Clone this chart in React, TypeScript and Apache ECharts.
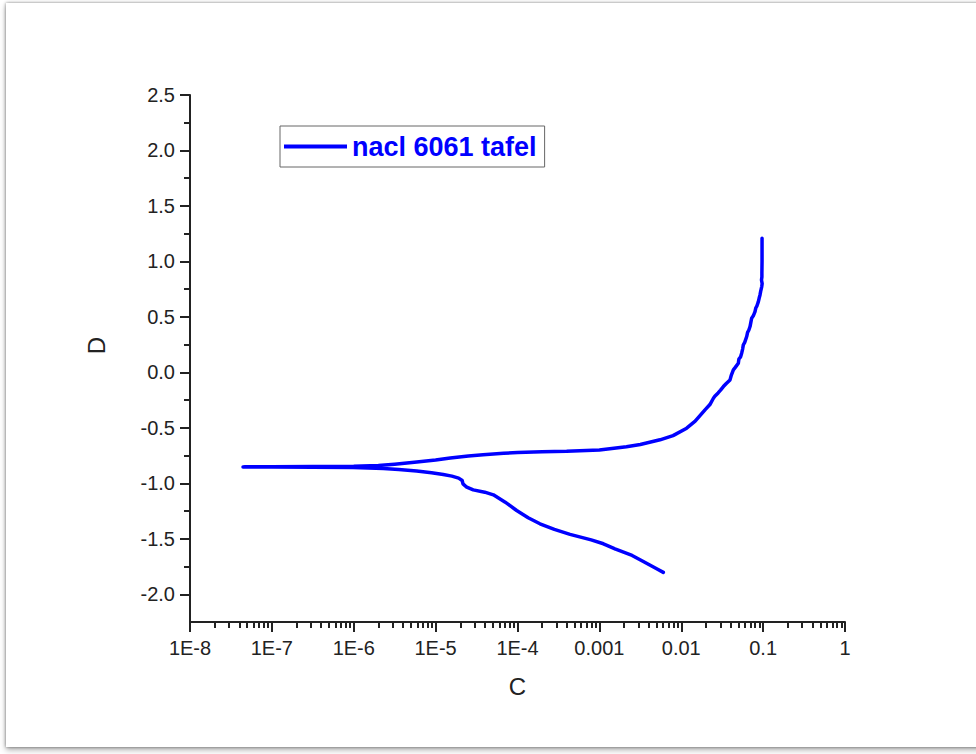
import React, { useEffect, useRef } from "react";
import * as echarts from "echarts";

// Cathodic branch (scan start, high current -> Ecorr)
const lowerC = [
  6.04e-3, 5.01e-3, 3.44e-3, 2.51e-3, 1.58e-3, 1.48e-3, 1.12e-3, 7.94e-4,
  4.38e-4, 2.82e-4, 1.88e-4, 1.35e-4, 9.77e-5, 7.08e-5, 5.07e-5, 3.98e-5,
  2.88e-5, 2.4e-5, 2.16e-5, 2.11e-5, 1.91e-5, 1.58e-5, 1.24e-5, 8.91e-6,
  5.87e-6, 3.55e-6, 2.3e-6, 9.8e-7, 3.16e-7, 1.0e-7, 4.44e-8,
];
const lowerD = [
  -1.803, -1.77, -1.704, -1.65, -1.594, -1.584, -1.545, -1.51,
  -1.46, -1.415, -1.365, -1.31, -1.245, -1.17, -1.104, -1.08,
  -1.059, -1.035, -1.005, -0.975, -0.953, -0.935, -0.92, -0.905,
  -0.89, -0.876, -0.867, -0.858, -0.855, -0.853, -0.852,
];
// Anodic branch (Ecorr -> end of scan)
const upperC = [
  4.68e-8, 1.0e-7, 3.16e-7, 1.0e-6, 2.0e-6, 3.16e-6, 5.89e-6, 1.0e-5,
  1.51e-5, 2.51e-5, 3.8e-5, 6.76e-5, 1.0e-4, 2.0e-4, 3.98e-4, 1.0e-3,
  2.14e-3, 3.16e-3, 5.5e-3, 7.94e-3, 1.164e-2, 1.479e-2, 1.95e-2, 2.24e-2,
  2.47e-2, 2.57e-2, 2.82e-2, 3.02e-2, 3.27e-2, 3.55e-2, 3.94e-2, 4.07e-2,
  4.33e-2, 4.57e-2, 4.98e-2, 5.06e-2, 5.31e-2, 5.47e-2, 5.62e-2, 5.73e-2,
  5.96e-2, 6.3e-2, 6.46e-2, 6.68e-2, 6.92e-2, 7.08e-2, 7.24e-2, 7.59e-2,
  7.96e-2, 8.13e-2, 8.41e-2, 8.75e-2, 8.95e-2, 9.16e-2, 9.33e-2, 9.62e-2,
  9.73e-2, 9.55e-2, 9.66e-2, 9.66e-2, 9.7e-2, 9.7e-2,
];
const upperD = [
  -0.851, -0.85, -0.849, -0.847, -0.84, -0.828, -0.808, -0.79,
  -0.772, -0.753, -0.742, -0.73, -0.722, -0.716, -0.712, -0.7,
  -0.67, -0.65, -0.608, -0.57, -0.503, -0.44, -0.338, -0.29,
  -0.233, -0.215, -0.185, -0.16, -0.128, -0.1, -0.068, -0.03,
  0.023, 0.045, 0.083, 0.12, 0.14, 0.173, 0.21, 0.248,
  0.27, 0.323, 0.36, 0.38, 0.413, 0.45, 0.488, 0.51,
  0.548, 0.58, 0.6, 0.638, 0.67, 0.698, 0.73, 0.773,
  0.8, 0.833, 0.86, 0.893, 1.0, 1.209,
];

const seriesName = "nacl 6061 tafel";
const xMajorTicks = [1e-8, 1e-7, 1e-6, 1e-5, 1e-4, 1e-3, 1e-2, 1e-1, 1];
const yMajorTicks = [-2.0, -1.5, -1.0, -0.5, 0.0, 0.5, 1.0, 1.5, 2.0, 2.5];
const yMinorTicks = [-1.75, -1.25, -0.75, -0.25, 0.25, 0.75, 1.25, 1.75, 2.25];
const xMinorTicks: number[] = [];
for (let e = -8; e < 0; e++) {
  for (let k = 2; k <= 9; k++) xMinorTicks.push(k * Math.pow(10, e));
}

const FONT = "Liberation Sans, Arial, sans-serif";
const AXIS_COLOR = "#222";
const LINE_COLOR = "#0000ff";

function fmtX(v: number): string {
  const e = Math.round(Math.log10(v));
  if (e < -3) return "1E" + e;
  if (e === 0) return "1";
  return Math.pow(10, e).toFixed(-e);
}

export default function App() {
  const ref = useRef<HTMLDivElement>(null);
  useEffect(() => {
    if (!ref.current) return;
    const chart = echarts.init(ref.current, undefined, { renderer: "svg" });
    const data: [number, number][] = [];
    lowerC.forEach((c, i) => data.push([c, lowerD[i]]));
    upperC.forEach((c, i) => data.push([c, upperD[i]]));
    const lineStyle = { color: AXIS_COLOR, width: 2 };
    chart.setOption({
      animation: false,
      backgroundColor: "#fff",
      grid: { left: 184, top: 92, width: 655, height: 527, containLabel: false },
      legend: {
        data: [{ name: seriesName, icon: "rect" }],
        left: 274,
        top: 123,
        orient: "horizontal",
        padding: [7, 8, 7, 4],
        borderColor: "#666",
        borderWidth: 1,
        itemWidth: 63,
        itemHeight: 4,
        itemStyle: { color: LINE_COLOR },
        textStyle: { color: LINE_COLOR, fontWeight: "bold", fontSize: 27, fontFamily: FONT },
      },
      xAxis: [
        {
          type: "log",
          logBase: 10,
          min: 1e-8,
          max: 1,
          position: "bottom",
          name: "C",
          nameLocation: "middle",
          nameGap: 52,
          nameTextStyle: { fontSize: 24, color: AXIS_COLOR, fontFamily: FONT },
          axisLine: { show: true, onZero: false, lineStyle },
          axisTick: { show: true, inside: false, length: 10, customValues: xMajorTicks, lineStyle },
          axisLabel: {
            customValues: xMajorTicks,
            formatter: (v: number) => fmtX(v),
            fontSize: 20,
            color: AXIS_COLOR,
            fontFamily: FONT,
            margin: 16,
          },
          splitLine: { show: false },
          minorTick: { show: false },
        },
        {
          type: "log",
          logBase: 10,
          min: 1e-8,
          max: 1,
          position: "bottom",
          axisLine: { show: false, onZero: false },
          axisTick: { show: true, inside: false, length: 6, customValues: xMinorTicks, lineStyle },
          axisLabel: { show: false },
          splitLine: { show: false },
        },
      ],
      yAxis: [
        {
          type: "value",
          min: -2.25,
          max: 2.5,
          position: "left",
          name: "D",
          nameLocation: "middle",
          nameGap: 82,
          nameTextStyle: { fontSize: 24, color: AXIS_COLOR, fontFamily: FONT, padding: [0, 0, 0, 26] },
          axisLine: { show: true, onZero: false, lineStyle },
          axisTick: { show: true, inside: false, length: 10, customValues: yMajorTicks, lineStyle },
          axisLabel: {
            customValues: yMajorTicks,
            formatter: (v: number) => v.toFixed(1),
            fontSize: 20,
            color: AXIS_COLOR,
            fontFamily: FONT,
            margin: 15,
          },
          splitLine: { show: false },
        },
        {
          type: "value",
          min: -2.25,
          max: 2.5,
          position: "left",
          axisLine: { show: false, onZero: false },
          axisTick: { show: true, inside: false, length: 6, customValues: yMinorTicks, lineStyle },
          axisLabel: { show: false },
          splitLine: { show: false },
        },
      ],
      series: [
        {
          name: seriesName,
          type: "line",
          xAxisIndex: 0,
          yAxisIndex: 0,
          data,
          symbol: "none",
          smooth: false,
          lineStyle: { color: LINE_COLOR, width: 3.5, cap: "round", join: "round" },
          itemStyle: { color: LINE_COLOR },
        },
      ],
    });
    return () => chart.dispose();
  }, []);

  return (
    <div style={{ position: "fixed", left: 0, top: 0, width: 976, height: 754, background: "#fff", overflow: "hidden" }}>
      <div
        style={{
          position: "absolute",
          left: 6,
          top: 3,
          width: 990,
          height: 744,
          background: "#fff",
          boxShadow: "0 0 3px rgba(0,0,0,0.45), 0 3px 6px rgba(0,0,0,0.3)",
        }}
      >
        <div ref={ref} style={{ width: 970, height: 744 }} />
      </div>
    </div>
  );
}
